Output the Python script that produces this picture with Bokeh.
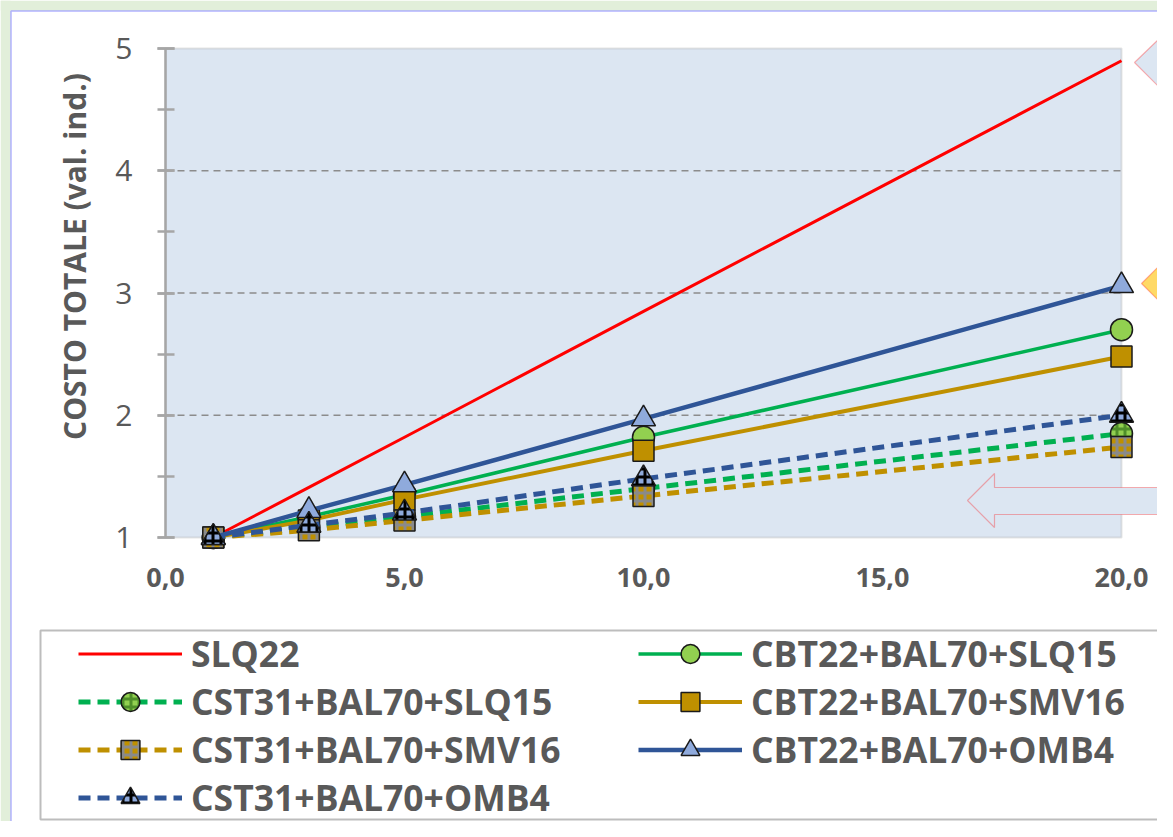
import math
from bokeh.plotting import figure
from bokeh.models import (Range1d, SingleIntervalTicker, FixedTicker, BoxAnnotation,
                          PolyAnnotation, Label, Legend, LegendItem)
from bokeh.embed import file_html
from bokeh.resources import INLINE

# ---------------- data ----------------
x_vals = [1, 3, 5, 10, 20]
slq22 = [1.00, 1.41, 1.82, 2.85, 4.90]
cbt_slq15 = [1.00, 1.17, 1.35, 1.82, 2.70]
cst_slq15 = [1.00, 1.08, 1.17, 1.40, 1.85]
cbt_smv16 = [1.00, 1.14, 1.31, 1.71, 2.48]
cst_smv16 = [1.00, 1.06, 1.14, 1.34, 1.74]
cbt_omb4 = [1.00, 1.22, 1.43, 1.97, 3.06]
cst_omb4 = [1.00, 1.10, 1.20, 1.48, 2.00]

series_names = ["SLQ22", "CBT22+BAL70+SLQ15", "CST31+BAL70+SLQ15", "CBT22+BAL70+SMV16",
                "CST31+BAL70+SMV16", "CBT22+BAL70+OMB4", "CST31+BAL70+OMB4"]
series_values = [slq22, cbt_slq15, cst_slq15, cbt_smv16, cst_smv16, cbt_omb4, cst_omb4]

x_ticks = [0, 5, 10, 15, 20]
x_tick_labels = ["0,0", "5,0", "10,0", "15,0", "20,0"]
y_grid_values = [2, 3, 4]
y_axis_title = "COSTO TOTALE (val. ind.)"

# ---------------- layout / styles ----------------
W, H = 1157, 821
FONT = "Open Sans"
TXT = "#595959"
GRAY = "#a6a6a6"

# plot area in pixels: x 0 -> 165, x 20 -> 1121 ; y 5 -> 48, y 1 -> 537
PX_X = (1121 - 165) / 20.0
PX_Y = (537 - 48) / 4.0
x_start = -165 / PX_X
x_end = 20 + (W - 1121) / PX_X
y_end = 5 + 48 / PX_Y
y_start = 1 - (H - 537) / PX_Y

DASH = "12 7"
styles = [
    dict(color="#ff0000", width=3, dash="solid", marker=None),
    dict(color="#00b050", width=3.5, dash="solid", marker="circle", size=22, fill="#92d050", hatch=None),
    dict(color="#00b050", width=5, dash=DASH, marker="circle", size=22, fill="#92d050", hatch="#4f8f2a"),
    dict(color="#bf9000", width=4, dash="solid", marker="square", size=21, fill="#bf9000", hatch=None),
    dict(color="#bf9000", width=5, dash=DASH, marker="square", size=21, fill="#bf9000", hatch="#8a8a8a"),
    dict(color="#2f5597", width=4.5, dash="solid", marker="triangle", size=24, fill="#8faadc", hatch=None),
    dict(color="#2f5597", width=5, dash=DASH, marker="triangle", size=24, fill="#8faadc", hatch="#000000"),
]

p = figure(width=W, height=H, output_backend="svg", toolbar_location=None, title=None,
           x_range=Range1d(x_start, x_end), y_range=Range1d(y_start, y_end),
           min_border=0, min_border_left=0, min_border_right=0, min_border_top=0, min_border_bottom=0)
p.background_fill_color = "white"
p.border_fill_color = "white"
p.outline_line_color = None
p.xgrid.visible = False
p.ygrid.visible = False


def cbox(left, right, top, bottom, **kw):
    return BoxAnnotation(left=left, right=right, top=top, bottom=bottom, left_units="canvas",
                         right_units="canvas", top_units="canvas", bottom_units="canvas", **kw)


# page decoration (green strip + blue border)
p.add_layout(cbox(0, 10, 0, H, fill_color="#e2efda", fill_alpha=1, line_color=None, level="underlay"))
p.add_layout(cbox(0, W, 0, 10, fill_color="#e2efda", fill_alpha=1, line_color=None, level="underlay"))
p.add_layout(cbox(10.5, W + 20, 10.5, H + 20, fill_alpha=0, line_color="#0000ff", line_width=1.5,
                  level="underlay"))

# plot area
p.add_layout(BoxAnnotation(left=0, right=20, bottom=1, top=5, fill_color="#dce6f2", fill_alpha=1,
                           line_color=GRAY, line_width=2, level="underlay"))
p.segment(x0=[0] * len(y_grid_values), x1=[20] * len(y_grid_values), y0=y_grid_values, y1=y_grid_values,
          line_color="#8c8c8c", line_width=1.5, line_dash="7 5")

# axes (fixed inside the frame)
xa = p.xaxis[0]
xa.fixed_location = 1
xa.ticker = FixedTicker(ticks=x_ticks)
xa.major_label_overrides = {t: l for t, l in zip(x_ticks, x_tick_labels)}
xa.axis_line_color = None
xa.major_tick_line_color = None
xa.minor_tick_line_color = None
xa.major_label_text_font = FONT
xa.major_label_text_font_size = "27px"
xa.major_label_text_font_style = "bold"
xa.major_label_text_color = TXT
xa.major_label_standoff = 24

ya = p.yaxis[0]
ya.fixed_location = 0
ya.ticker = SingleIntervalTicker(interval=1, num_minor_ticks=2)
ya.bounds = (1, 5)
ya.axis_line_color = GRAY
ya.axis_line_width = 2.5
ya.major_tick_line_color = GRAY
ya.major_tick_line_width = 2.5
ya.minor_tick_line_color = GRAY
ya.minor_tick_line_width = 2.5
ya.major_tick_in = 9
ya.major_tick_out = 8
ya.minor_tick_in = 9
ya.minor_tick_out = 8
ya.major_label_text_font = FONT
ya.major_label_text_font_size = "30px"
ya.major_label_text_color = TXT
ya.major_label_standoff = 25

p.add_layout(Label(x=74, y=256, x_units="canvas", y_units="canvas", text=y_axis_title,
                   angle=math.pi / 2, text_align="center", text_baseline="middle",
                   text_font=FONT, text_font_size="30px", text_font_style="bold", text_color=TXT))

# series
items = []
for name, vals, st in zip(series_names, series_values, styles):
    rs = [p.line(x_vals, vals, line_color=st["color"], line_width=st["width"], line_dash=st["dash"])]
    if st["marker"]:
        kw = dict(marker=st["marker"], size=st["size"], fill_color=st["fill"],
                  line_color="#1a1a1a", line_width=1.5)
        if st["hatch"]:
            kw.update(hatch_pattern="cross", hatch_color=st["hatch"], hatch_scale=8, hatch_weight=3)
        rs.append(p.scatter(x_vals, vals, **kw))
    items.append(LegendItem(label=name, renderers=rs))

# legend box
p.add_layout(cbox(40, 1158, 630, 819, fill_color="white", fill_alpha=1, line_color="#262626", line_width=2))

legend = Legend(items=items, location=(78, 0), orientation="horizontal", ncols=2,
                glyph_width=104, glyph_height=47, label_height=47, spacing=0, label_width=447,
                label_standoff=9, padding=0, margin=0, background_fill_alpha=0, border_line_alpha=0,
                label_text_font=FONT, label_text_font_size="35.5px", label_text_font_style="bold",
                label_text_color=TXT)
p.add_layout(legend)


# callout shapes on the right
def poly(pts, fill):
    p.add_layout(PolyAnnotation(xs=[a for a, b in pts], ys=[b for a, b in pts], xs_units="canvas",
                                ys_units="canvas", fill_color=fill, fill_alpha=1, line_color="#ff0000",
                                line_width=1.2, level="overlay"))


poly([(1134, 62), (1162, 35), (1162, 48), (1190, 48), (1190, 76), (1162, 76), (1162, 90)], "#dce6f2")
poly([(1141, 283), (1182, 242), (1182, 324)], "#ffd966")
poly([(967, 500), (994, 473), (994, 487), (1190, 487), (1190, 514), (994, 514), (994, 527)], "#dce6f2")

open("out.html", "w").write(file_html(p, INLINE))
